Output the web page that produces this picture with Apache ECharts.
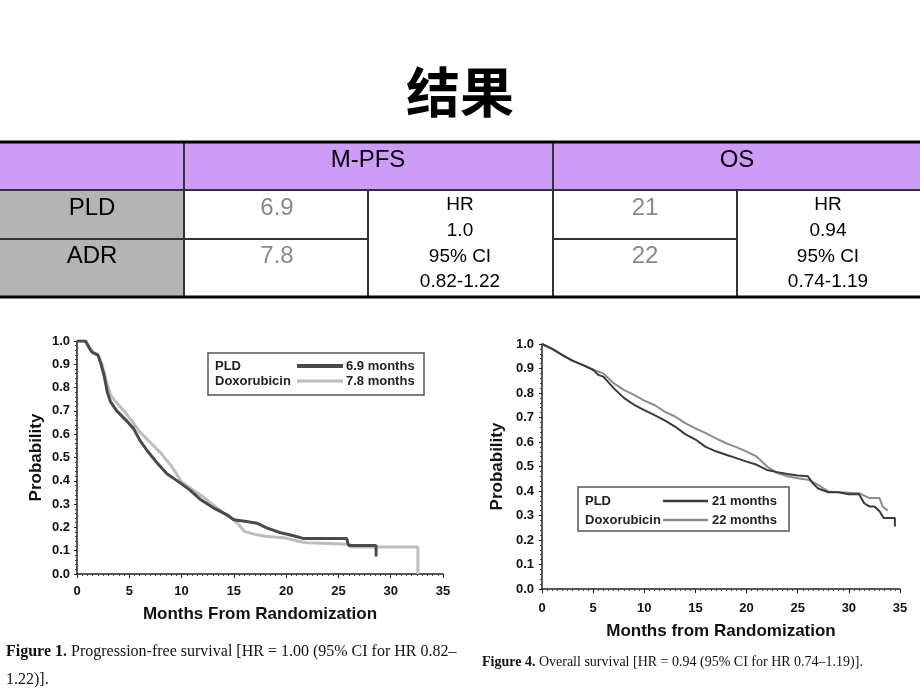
<!DOCTYPE html>
<html>
<head>
<meta charset="utf-8">
<script src="https://cdn.jsdelivr.net/npm/echarts@6/dist/echarts.min.js"></script>
<style>
  html, body { margin: 0; padding: 0; background: #fff; }
  #main { width: 920px; height: 690px; }
</style>
</head>
<body>
<div id="main"></div>
<script>
// 表格数据
var tableHead = ['M-PFS', 'OS'];
var rowNames = ['PLD', 'ADR'];
var pfsMonths = ['6.9', '7.8'];
var osMonths = ['21', '22'];
var pfsHR = ['HR', '1.0', '95% CI', '0.82-1.22'];
var osHR = ['HR', '0.94', '95% CI', '0.74-1.19'];

// 曲线数据 [月, 概率]
var pfsPLD = [[0,1],[0.8,1],[1.0,0.985],[1.3,0.96],[1.5,0.95],[2.0,0.94],[2.3,0.9],[2.6,0.85],[2.9,0.78],[3.2,0.74],[3.8,0.70],[4.8,0.655],[5.4,0.625],[6.0,0.575],[6.7,0.53],[7.6,0.48],[8.6,0.43],[9.9,0.39],[10.8,0.36],[11.8,0.32],[13,0.285],[14.3,0.255],[15,0.233],[16.2,0.225],[17.2,0.218],[18.2,0.197],[19.4,0.178],[20.7,0.164],[21.7,0.152],[25.8,0.152],[25.9,0.133],[26.0,0.122],[28.6,0.122],[28.6,0.075]];
var pfsDox = [[0,1],[0.8,1],[1.2,0.97],[1.6,0.95],[2.0,0.94],[2.4,0.9],[2.8,0.83],[3.2,0.77],[3.6,0.745],[4.5,0.70],[5.2,0.66],[6.0,0.61],[7.0,0.565],[8.0,0.52],[9.0,0.465],[9.5,0.43],[10,0.395],[11,0.364],[12,0.333],[13,0.297],[14,0.262],[15,0.233],[15.5,0.21],[16,0.183],[17,0.17],[18,0.162],[20,0.154],[21,0.142],[22,0.134],[26,0.128],[26.2,0.116],[32.6,0.116],[32.6,0]];
var osPLD = [[0,1],[1,0.98],[2,0.955],[3,0.932],[4,0.914],[5,0.895],[5.5,0.874],[6,0.867],[7,0.82],[8,0.78],[9,0.752],[10,0.73],[11,0.71],[12,0.688],[13,0.663],[14,0.632],[15,0.61],[16,0.58],[17,0.562],[18,0.548],[19,0.534],[20,0.52],[21,0.507],[22,0.486],[23,0.477],[24,0.469],[25,0.463],[26,0.46],[26.5,0.43],[27,0.41],[28,0.395],[29,0.395],[30,0.387],[31,0.387],[31.5,0.35],[32,0.337],[32.5,0.337],[33,0.317],[33.4,0.29],[34.5,0.29],[34.5,0.255]];
var osDox = [[0,1],[1,0.98],[2,0.955],[3,0.93],[4,0.915],[5,0.895],[6,0.88],[7,0.84],[8,0.813],[9,0.792],[10,0.769],[11,0.751],[12,0.724],[13,0.704],[14,0.677],[15,0.656],[16,0.636],[17,0.615],[18,0.595],[19,0.579],[20,0.561],[21,0.54],[22,0.5],[23,0.473],[24,0.46],[25,0.452],[26,0.446],[27,0.425],[28,0.398],[29,0.395],[30,0.393],[31,0.391],[32,0.371],[33,0.371],[33.3,0.337],[33.8,0.32]];

var pfsLegend = ['PLD', 'Doxorubicin', '6.9 months', '7.8 months'];
var osLegend = ['PLD', 'Doxorubicin', '21 months', '22 months'];
var caption1 = ['Figure 1.', ' Progression-free survival [HR = 1.00 (95% CI for HR 0.82\u2013', '1.22)].'];
var caption4 = ['Figure 4.', ' Overall survival [HR = 0.94 (95% CI for HR 0.74\u20131.19)].'];

var sans = 'Liberation Sans, Arial, sans-serif';
var serif = 'Liberation Serif, Times New Roman, serif';

//表格
var g = [];
function txt(x, y, s, size, color, align) {
    g.push({ type: 'text', x: x, y: y, style: {
        text: s, x: 0, y: 0, fontFamily: sans, fontSize: size, fill: color,
        textAlign: align || 'center', textVerticalAlign: 'middle' } });
}
function line(x1, y1, x2, y2, w, c) {
    g.push({ type: 'line', shape: { x1: x1, y1: y1, x2: x2, y2: y2 }, style: { stroke: c, lineWidth: w } });
}
g.push({ type: 'rect', shape: { x: 0, y: 142, width: 920, height: 48 }, style: { fill: '#cc9cf8' } });
g.push({ type: 'rect', shape: { x: 0, y: 190, width: 184, height: 108 }, style: { fill: '#b4b4b4' } });
line(0, 190, 920, 190, 2, '#333');
line(0, 239, 368, 239, 2, '#333');
line(553, 239, 737, 239, 2, '#333');
line(184, 142, 184, 298, 2, '#333');
line(553, 142, 553, 298, 2, '#333');
line(368, 190, 368, 298, 2, '#333');
line(737, 190, 737, 298, 2, '#333');
line(0, 142, 920, 142, 3, '#000');
line(0, 297, 920, 297, 3, '#000');
txt(368, 160, tableHead[0], 24, '#000');
txt(737, 160, tableHead[1], 24, '#000');
txt(92, 208, rowNames[0], 24, '#000');
txt(92, 256, rowNames[1], 24, '#000');
txt(277, 208, pfsMonths[0], 24, '#8a8a8a');
txt(277, 256, pfsMonths[1], 24, '#8a8a8a');
txt(645, 208, osMonths[0], 24, '#8a8a8a');
txt(645, 256, osMonths[1], 24, '#8a8a8a');
for (var i = 0; i < 4; i++) {
    txt(460, 205 + i * 25.7, pfsHR[i], 19, '#000');
    txt(828, 205 + i * 25.7, osHR[i], 19, '#000');
}

// 图例框
function legendBox(x, y, w, h, items, lx, lx2, tx, rows, fs, colors, widths) {
    g.push({ type: 'rect', shape: { x: x, y: y, width: w, height: h }, style: { fill: '#fff', stroke: '#555', lineWidth: 1.5 }, z: 10 });
    for (var k = 0; k < 2; k++) {
        g.push({ type: 'text', x: x + 7, y: rows[k], z: 11, style: { text: items[k], fontFamily: sans, fontWeight: 'bold', fontSize: fs, fill: '#222', textVerticalAlign: 'middle' } });
        g.push({ type: 'line', z: 11, shape: { x1: lx, y1: rows[k], x2: lx2, y2: rows[k] }, style: { stroke: colors[k], lineWidth: widths[k] } });
        g.push({ type: 'text', x: tx, y: rows[k], z: 11, style: { text: items[k + 2], fontFamily: sans, fontWeight: 'bold', fontSize: fs, fill: '#222', textVerticalAlign: 'middle' } });
    }
}
legendBox(208, 353, 216, 42, pfsLegend, 297, 343, 346, [366, 381], 13, ['#4a4a4a', '#bdbdbd'], [4, 3]);
legendBox(578, 487, 211, 44, osLegend, 663, 708, 712, [501, 520], 13, ['#3a3a3a', '#8c8c8c'], [2.5, 2.5]);

// 图注
g.push({ type: 'text', x: 6, y: 638, style: {
    text: '{b|' + caption1[0] + '}' + caption1[1] + '\n' + caption1[2],
    fontFamily: serif, fontSize: 16, fill: '#111', lineHeight: 28,
    rich: { b: { fontFamily: serif, fontSize: 16, fontWeight: 'bold', fill: '#111', lineHeight: 28 } } } });
g.push({ type: 'text', x: 482, y: 662, style: {
    text: '{b|' + caption4[0] + '}' + caption4[1], textVerticalAlign: 'middle',
    fontFamily: serif, fontSize: 14, fill: '#111',
    rich: { b: { fontFamily: serif, fontSize: 14, fontWeight: 'bold', fill: '#111' } } } });

function xAx(idx, name, off) {
    return {
        type: 'value', gridIndex: idx, min: 0, max: 35, interval: 5, offset: off,
        axisLine: { show: true, lineStyle: { color: '#222', width: 1.5 } },
        axisTick: { show: true, length: 4, lineStyle: { color: '#222' } },
        minorTick: { show: true, splitNumber: 10, length: 2, lineStyle: { color: '#444' } },
        splitLine: { show: false },
        axisLabel: { color: '#111', fontFamily: sans, fontWeight: 'bold', fontSize: 13, margin: 7 },
        name: name, nameLocation: 'middle', nameGap: 28,
        nameTextStyle: { color: '#111', fontFamily: sans, fontWeight: 'bold', fontSize: 17 }
    };
}
function yAx(idx, off, gap) {
    return {
        type: 'value', gridIndex: idx, min: 0, max: 1, interval: 0.1, offset: off,
        axisLine: { show: true, lineStyle: { color: '#222', width: 1.5 } },
        axisTick: { show: true, length: 3, lineStyle: { color: '#222' } },
        minorTick: { show: true, splitNumber: 5, length: 2, lineStyle: { color: '#444' } },
        splitLine: { show: false },
        axisLabel: { color: '#111', fontFamily: sans, fontWeight: 'bold', fontSize: 13, margin: 5,
            formatter: function (v) { return v.toFixed(1); } },
        name: 'Probability', nameLocation: 'middle', nameGap: gap,
        nameTextStyle: { color: '#111', fontFamily: sans, fontWeight: 'bold', fontSize: 17 }
    };
}
function ser(data, xi, color, w) {
    return { type: 'line', data: data, xAxisIndex: xi, yAxisIndex: xi, symbol: 'none',
        lineStyle: { color: color, width: w }, silent: true };
}

var myChart = echarts.init(document.getElementById('main'));
myChart.setOption({
    backgroundColor: '#fff',
    animation: false,
    title: { text: '结果', left: 'center', top: 60,
        textStyle: { fontFamily: 'Noto Sans CJK SC', fontSize: 54, fontWeight: 'bold', color: '#000' } },
    grid: [
        { left: 77, top: 341, width: 366, height: 233 },
        { left: 542, top: 344, width: 358, height: 245 }
    ],
    xAxis: [xAx(0, 'Months From Randomization', 4), xAx(1, 'Months from Randomization', 6)],
    yAxis: [yAx(0, 2, 30), yAx(1, 3, 33)],
    series: [
        ser(pfsDox, 0, '#bdbdbd', 3),
        ser(pfsPLD, 0, '#4a4a4a', 3),
        ser(osDox, 1, '#8c8c8c', 2),
        ser(osPLD, 1, '#3a3a3a', 2)
    ],
    graphic: g
});
</script>
</body>
</html>
